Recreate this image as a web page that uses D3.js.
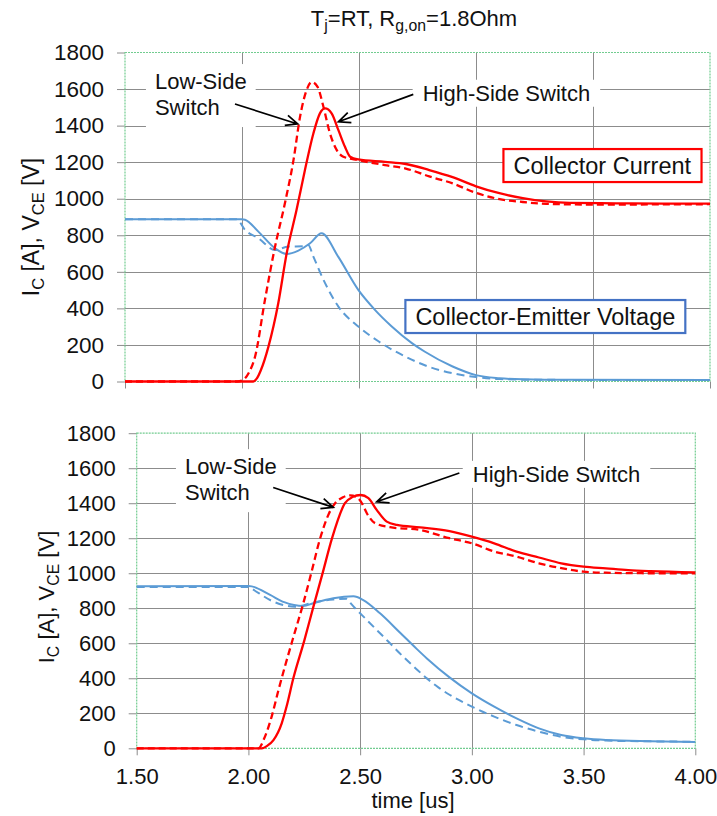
<!DOCTYPE html>
<html><head><meta charset="utf-8">
<script src="https://cdn.jsdelivr.net/npm/d3@7"></script>
<style>html,body{margin:0;padding:0;background:#fff;}svg{display:block;}</style>
</head><body>
<svg id="chart" width="717" height="816"></svg>
<script>
// ---------- data ----------
const yTickValues = [0,200,400,600,800,1000,1200,1400,1600,1800];
const xTickValues = [1.5,2.0,2.5,3.0,3.5,4.0];
const xTickLabels = ["1.50","2.00","2.50","3.00","3.50","4.00"];
const titleParts = [["T",""],["j","sub"],["=RT, R",""],["g,on","sub"],["=1.8Ohm",""]];
const yLabelParts = [["I",""],["C","sub"],[" [A], V",""],["CE","sub"],[" [V]",""]];
const xLabelText = "time [us]";
const lowSideLines = ["Low-Side","Switch"];
const highSideText = "High-Side Switch";
const currentBoxText = "Collector Current";
const voltageBoxText = "Collector-Emitter Voltage";

// [time us, value]
const top_IC_high = [[1.50,0],[1.80,0],[2.00,0],[2.048,0],[2.065,20],[2.08,60],[2.113,191],[2.155,428],[2.191,702],[2.233,938],[2.269,1157],[2.305,1357],[2.333,1467],[2.355,1494],[2.383,1467],[2.412,1375],[2.44,1284],[2.462,1230],[2.497,1215],[2.611,1202],[2.70,1190],[2.80,1157],[2.90,1118],[3.00,1068],[3.10,1030],[3.20,1003],[3.30,985],[3.40,977],[3.60,975],[3.80,973],[4.00,973]];
const top_IC_low = [[1.50,0],[1.98,0],[2.00,5],[2.028,45],[2.056,137],[2.098,446],[2.14,730],[2.185,985],[2.22,1211],[2.248,1448],[2.276,1594],[2.298,1639],[2.323,1612],[2.348,1503],[2.376,1357],[2.405,1266],[2.433,1230],[2.497,1211],[2.611,1184],[2.70,1165],[2.80,1122],[2.90,1084],[3.00,1032],[3.10,998],[3.20,982],[3.30,972],[3.50,968],[4.00,970]];
const top_VCE_high = [[1.50,888],[2.00,888],[2.013,885],[2.07,820],[2.141,729],[2.191,698],[2.241,716],[2.291,756],[2.34,811],[2.411,683],[2.497,501],[2.568,392],[2.64,301],[2.726,210],[2.78,164],[2.90,82],[3.00,35],[3.10,18],[3.20,12],[3.40,9],[4.00,8]];
const top_VCE_low = [[1.50,888],[1.977,888],[2.013,829],[2.07,784],[2.141,720],[2.198,738],[2.262,740],[2.283,747],[2.305,683],[2.355,538],[2.412,410],[2.497,301],[2.583,220],[2.70,135],[2.80,80],[2.90,45],[3.00,24],[3.10,13],[3.30,9],[4.00,8]];

const bot_IC_high = [[1.50,0],[2.00,0],[2.06,0],[2.085,15],[2.112,47],[2.149,143],[2.171,240],[2.201,400],[2.25,615],[2.29,805],[2.333,1005],[2.373,1195],[2.432,1400],[2.465,1435],[2.502,1447],[2.537,1429],[2.574,1362],[2.619,1295],[2.664,1276],[2.768,1262],[2.90,1240],[3.00,1209],[3.10,1171],[3.20,1123],[3.30,1090],[3.40,1057],[3.50,1038],[3.60,1028],[3.70,1018],[3.80,1012],[4.00,1005]];
const bot_IC_low = [[1.50,0],[2.00,0],[2.044,0],[2.074,67],[2.104,181],[2.134,330],[2.164,470],[2.20,630],[2.246,830],[2.283,1010],[2.32,1195],[2.36,1340],[2.388,1400],[2.42,1432],[2.455,1445],[2.485,1435],[2.51,1395],[2.53,1343],[2.567,1286],[2.634,1263],[2.768,1247],[2.90,1200],[3.00,1171],[3.10,1124],[3.20,1095],[3.30,1057],[3.40,1029],[3.50,1009],[3.60,1003],[3.80,1000],[4.00,1000]];
const bot_VCE_high = [[1.50,925],[2.00,927],[2.015,925],[2.097,876],[2.16,835],[2.246,813],[2.29,829],[2.38,857],[2.47,868],[2.514,847],[2.589,771],[2.679,660],[2.753,568],[2.80,512],[2.90,405],[3.00,314],[3.10,238],[3.20,171],[3.30,114],[3.40,76],[3.50,57],[3.60,47],[3.80,40],[4.00,36]];
const bot_VCE_low = [[1.50,922],[2.00,922],[2.01,915],[2.112,838],[2.209,809],[2.29,833],[2.38,850],[2.44,855],[2.46,825],[2.53,733],[2.619,619],[2.693,523],[2.75,455],[2.80,398],[2.85,348],[2.90,306],[3.00,238],[3.10,181],[3.20,133],[3.30,95],[3.40,66],[3.50,51],[3.60,44],[3.80,40],[4.00,37]];

// ---------- layout / style ----------
const FONT = "'Liberation Sans', Arial, Helvetica, sans-serif";
const RED = "#ff0000", BLUE = "#5b9bd5", GRID = "#8c8c8c", BORDER = "#72cc90", TXT = "#111";
const svg = d3.select("#chart");

const panels = [
  { left:125, right:710, top:52.5, bottom:381.5, font:22.5, labelFont:23, labelPos:[38.5,227], showX:false,
    series:{icH:top_IC_high, icL:top_IC_low, vH:top_VCE_high, vL:top_VCE_low},
    ann:{ low:{t:1.628,v:1600}, lowArrow:[[1.970,1518],[2.238,1409]],
          high:{t:2.772,v:1536}, highArrow:[[2.732,1571],[2.412,1421]],
          cur:{t:3.160,v:1135}, volt:{t:2.741,v:309} } },
  { left:136.7, right:695.3, top:433.2, bottom:748.3, font:22, labelFont:22, labelPos:[53.5,597], showX:true,
    series:{icH:bot_IC_high, icL:bot_IC_low, vH:bot_VCE_high, vL:bot_VCE_low},
    ann:{ low:{t:1.716,v:1566}, lowArrow:[[2.111,1490],[2.380,1376]],
          high:{t:3.004,v:1522}, highArrow:[[2.944,1573],[2.574,1408]] } }
];

function richText(sel, parts, size){
  let shifted = false;
  parts.forEach(([s,kind])=>{
    const ts = sel.append("tspan").text(s);
    if(kind==="sub"){ ts.attr("font-size", size*0.72).attr("dy", shifted?0:size*0.24); shifted=true; }
    else { if(shifted){ ts.attr("dy", -size*0.24); shifted=false; } }
  });
}

function arrow(g, x1,y1,x2,y2){
  const ang = Math.atan2(y2-y1, x2-x1), L=13, a=0.42;
  const p1=[x2-L*Math.cos(ang-a), y2-L*Math.sin(ang-a)];
  const p2=[x2-L*Math.cos(ang+a), y2-L*Math.sin(ang+a)];
  g.append("path").attr("d",`M${x1},${y1}L${x2},${y2}M${p1[0]},${p1[1]}L${x2},${y2}L${p2[0]},${p2[1]}`)
   .attr("fill","none").attr("stroke","#000").attr("stroke-width",1.7).attr("stroke-linejoin","miter");
}

// title
const title = svg.append("text").attr("x",414).attr("y",26).attr("text-anchor","middle")
  .attr("font-family",FONT).attr("font-size",22).attr("fill",TXT);
richText(title, titleParts, 22);

panels.forEach(p=>{
  const x = d3.scaleLinear().domain([1.5,4.0]).range([p.left,p.right]);
  const y = d3.scaleLinear().domain([0,1800]).range([p.bottom,p.top]);
  const g = svg.append("g");

  // gridlines
  g.append("g").selectAll("line").data(yTickValues.filter(v=>v>0&&v<1800)).join("line")
    .attr("x1",p.left).attr("x2",p.right).attr("y1",d=>Math.round(y(d))+0.5).attr("y2",d=>Math.round(y(d))+0.5)
    .attr("stroke",GRID).attr("stroke-width",1);
  g.append("g").selectAll("line").data(xTickValues.filter(v=>v>1.5&&v<4)).join("line")
    .attr("y1",p.top).attr("y2",p.bottom).attr("x1",d=>Math.round(x(d))+0.5).attr("x2",d=>Math.round(x(d))+0.5)
    .attr("stroke",GRID).attr("stroke-width",1);

  // y axis
  const ya = g.append("g").attr("transform",`translate(${p.left},0)`)
    .call(d3.axisLeft(y).tickValues(yTickValues).tickSize(8).tickPadding(13).tickFormat(d3.format("d")));
  ya.select(".domain").remove();
  ya.selectAll(".tick line").attr("stroke",GRID);
  ya.selectAll(".tick text").attr("font-family",FONT).attr("font-size",p.font).attr("fill",TXT);

  // x axis
  const xa = g.append("g").attr("transform",`translate(0,${p.bottom})`)
    .call(d3.axisBottom(x).tickValues(xTickValues).tickSize(7).tickPadding(13)
      .tickFormat((d,i)=> p.showX ? xTickLabels[i] : ""));
  xa.select(".domain").remove();
  xa.selectAll(".tick line").attr("stroke",GRID);
  xa.selectAll(".tick text").attr("font-family",FONT).attr("font-size",p.font).attr("fill",TXT);

  // plot border
  g.append("rect").attr("x",p.left).attr("y",p.top).attr("width",p.right-p.left).attr("height",p.bottom-p.top)
    .attr("fill","none").attr("stroke",BORDER).attr("stroke-width",1.2).attr("stroke-dasharray","2,1");

  // y label
  const yl = g.append("text").attr("transform",`translate(${p.labelPos[0]},${p.labelPos[1]}) rotate(-90)`)
    .attr("text-anchor","middle").attr("font-family",FONT).attr("font-size",p.labelFont).attr("fill",TXT);
  richText(yl, yLabelParts, p.labelFont);

  if(p.showX){
    g.append("text").attr("x",(p.left+p.right)/2-3).attr("y",808).attr("text-anchor","middle")
      .attr("font-family",FONT).attr("font-size",22).attr("fill",TXT).text(xLabelText);
  }

  // data lines
  const line = d3.line().x(d=>x(d[0])).y(d=>y(d[1])).curve(d3.curveMonotoneX);
  const S = p.series;
  [[S.vL,BLUE,"8,5",2],[S.vH,BLUE,null,2],[S.icL,RED,"7,4",2.3],[S.icH,RED,null,2.3]].forEach(([d,c,dash,w])=>{
    g.append("path").datum(d).attr("d",line).attr("fill","none").attr("stroke",c).attr("stroke-width",w)
      .attr("stroke-dasharray",dash).attr("stroke-linejoin","round");
  });

  // annotations
  const A = p.ann;
  const an = g.append("g");
  const lt = an.append("text").attr("font-family",FONT).attr("font-size",22).attr("fill",TXT);
  lowSideLines.forEach((s,i)=>lt.append("tspan").attr("x",x(A.low.t)).attr("y",y(A.low.v)+i*26).text(s));
  let bb = lt.node().getBBox();
  an.insert("rect","text").attr("x",bb.x-9).attr("y",bb.y-5).attr("width",bb.width+18).attr("height",bb.height+12).attr("fill","#fff");
  const ht = an.append("text").attr("x",x(A.high.t)).attr("y",y(A.high.v)).attr("font-family",FONT).attr("font-size",22).attr("fill",TXT).text(highSideText);
  bb = ht.node().getBBox();
  an.insert("rect","text").attr("x",bb.x-10).attr("y",bb.y-1).attr("width",bb.width+20).attr("height",bb.height+2).attr("fill","#fff");
  arrow(an, x(A.lowArrow[0][0]), y(A.lowArrow[0][1]), x(A.lowArrow[1][0]), y(A.lowArrow[1][1]));
  arrow(an, x(A.highArrow[0][0]), y(A.highArrow[0][1]), x(A.highArrow[1][0]), y(A.highArrow[1][1]));

  // legend boxes
  [[A.cur,currentBoxText,RED],[A.volt,voltageBoxText,"#4472c4"]].forEach(([pos,txt,col])=>{
    if(!pos) return;
    const bg = g.append("g");
    const t = bg.append("text").attr("x",x(pos.t)).attr("y",y(pos.v)).attr("font-family",FONT).attr("font-size",23.5).attr("fill",TXT).text(txt);
    const b = t.node().getBBox();
    bg.insert("rect","text").attr("x",b.x-10).attr("y",b.y-4).attr("width",b.width+20).attr("height",b.height+7)
      .attr("fill","#fff").attr("stroke",col).attr("stroke-width",2.2);
  });
});
</script>
</body></html>
